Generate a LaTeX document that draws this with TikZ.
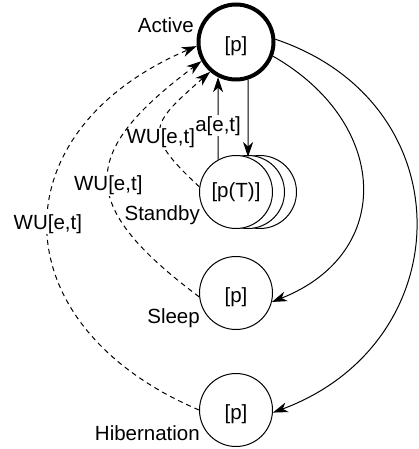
\documentclass[tikz,border=0pt]{standalone}
\usepackage{fontspec}
\setmainfont{Liberation Sans}
\usetikzlibrary{arrows.meta}
\begin{document}
\begin{tikzpicture}[x=1pt,y=-1pt,
  txt/.style={font=\fontsize{20.5}{23}\selectfont},
  state/.style={circle,draw,line width=1pt,minimum size=73pt,inner sep=0pt,fill=white,txt},
  low/.style={text height=18.5pt,text depth=0pt},
  lbl/.style={txt,inner sep=0pt},
  elbl/.style={txt,fill=white,inner sep=1pt},
  arr/.style={line width=1pt,-{Stealth[length=15pt,width=10pt,inset=4.5pt]}},
  darr/.style={arr,dash pattern=on 5pt off 4pt}]
\useasboundingbox (0,0) rectangle (418,449);
% states
\node[state,low,line width=4pt,minimum size=75pt] (act) at (236,42) {[p]};
\node[state] (stb3) at (260,192) {};
\node[state] (stb2) at (248,192) {};
\node[state] (stb) at (236,192) {[p(T)]};
\node[state,low] (slp) at (236,293) {[p]};
\node[state,low] (hib) at (236,410) {[p]};
% state names
\node[lbl,anchor=base east] (lact) at (194,33) {Active};
\node[lbl,anchor=base east] (lstb) at (200,220) {Standby};
\node[lbl,anchor=base east] (lslp) at (200,323) {Sleep};
\node[lbl,anchor=base east] (lhib) at (200,440) {Hibernation};
% transitions
\draw[arr] (act.-72.2) -- (stb.71.1);
\draw[arr] (stb.119.1) -- node[elbl,pos=0.41] (la) {a[e,t]} (act.-117.3);
\draw[darr] (stb.172.5) .. controls +(-58,-54) and +(-60,53) .. node[elbl,pos=0.4] (w1) {WU[e,t]} (act.229);
\draw[darr] (slp.186) .. controls +(-123,-92) and +(-123,92) .. node[elbl,pos=0.47] (w2) {WU[e,t]} (act.209);
\draw[darr] (hib.180) .. controls +(-200,-85) and +(-200,85) .. node[elbl,pos=0.51] (w3) {WU[e,t]} (act.186);
\draw[arr] (act.-21) .. controls +(116,66) and +(124,-49) .. (slp.-14);
\draw[arr] (act.4) .. controls +(190,64) and +(188,-70) .. (hib.-4);
\end{tikzpicture}
\end{document}
